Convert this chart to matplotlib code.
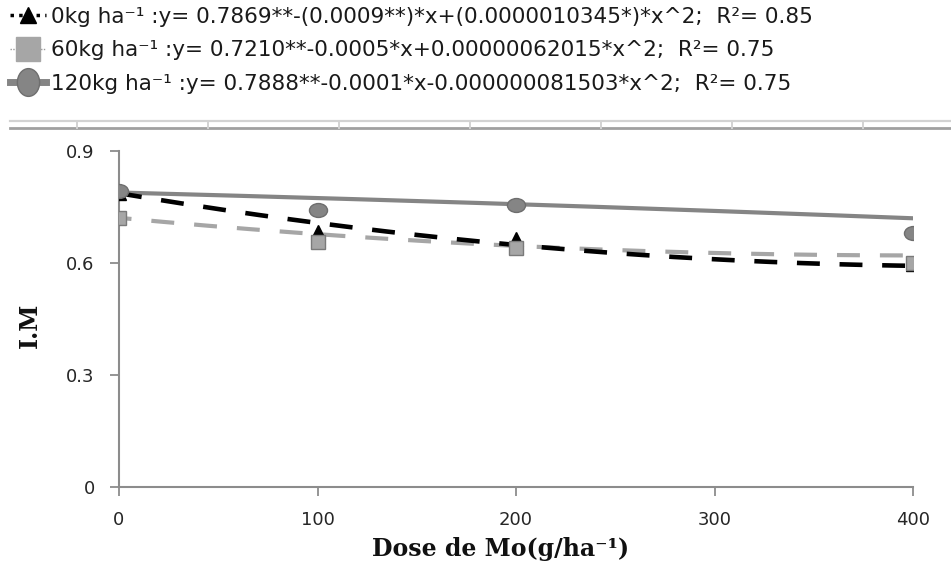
import numpy as np
import matplotlib
matplotlib.use("Agg")
import matplotlib.pyplot as plt
from matplotlib.lines import Line2D
from matplotlib.path import Path
from matplotlib.transforms import Affine2D

# ---------------- data ----------------
doses = [0, 100, 200, 400]
im_0kg = [0.787, 0.684, 0.664, 0.598]
im_60kg = [0.720, 0.657, 0.641, 0.600]
im_120kg = [0.793, 0.742, 0.755, 0.680]

# quadratic trend coefficients (c0, c1, c2)
coef_0kg = [0.7869, -0.0009, 0.0000010345]
coef_60kg = [0.7210, -0.0005, 0.00000062015]
coef_120kg = [0.7888, -0.00014, -0.000000081503]

legend_labels = [
    "0kg ha\u207b\u00b9 :y= 0.7869**-(0.0009**)*x+(0.0000010345*)*x^2;  R\u00b2= 0.85",
    "60kg ha\u207b\u00b9 :y= 0.7210**-0.0005*x+0.00000062015*x^2;  R\u00b2= 0.75",
    "120kg ha\u207b\u00b9 :y= 0.7888**-0.0001*x-0.000000081503*x^2;  R\u00b2= 0.75",
]
x_ticks = [0, 100, 200, 300, 400]
y_ticks = [0, 0.3, 0.6, 0.9]
x_label = "Dose de Mo(g/ha\u207b\u00b9)"
y_label = "I.M"

# ---------------- figure ----------------
W, H = 951, 562
fig = plt.figure(figsize=(W / 100, H / 100), dpi=100)
ax = fig.add_axes([119 / W, 1 - 487 / H, (913 - 119) / W, (487 - 151) / H])

xs = np.linspace(0, 400, 200)

def trend(c):
    return c[0] + c[1] * xs + c[2] * xs ** 2

c_black = "#000000"
c_light = "#a6a6a6"
c_mid = "#858585"

ax.plot(xs, trend(coef_60kg), color=c_light, lw=3.0, linestyle=(2.5, (5.5, 4.8)),
        zorder=2)
ax.plot(xs, trend(coef_0kg), color=c_black, lw=3.3, linestyle=(0, (5.0, 4.3)),
        zorder=3)
ax.plot(xs, trend(coef_120kg), color=c_mid, lw=3.0, linestyle="-", zorder=2.5)

# wide ellipse marker (original picture is horizontally stretched)
ell = Path.unit_circle().transformed(Affine2D().scale(1.0, 0.77))

ax.plot(doses, im_0kg, linestyle="none", marker="^", ms=9.5, color=c_black,
        markeredgecolor=c_black, zorder=4)
ax.plot(doses, im_60kg, linestyle="none", marker="s", ms=10.5, color=c_light,
        markeredgecolor="#7a7a7a", markeredgewidth=1.0, zorder=5)
ax.plot(doses, im_120kg, linestyle="none", marker=ell, ms=13, color=c_mid,
        markeredgecolor="#6e6e6e", markeredgewidth=1.0, zorder=6)

ax.set_xlim(0, 400)
ax.set_ylim(0, 0.9)
ax.set_xticks(x_ticks)
ax.set_yticks(y_ticks)
ax.set_xticklabels([str(v) for v in x_ticks])
ax.set_yticklabels(["0" if v == 0 else f"{v:.1f}" for v in y_ticks])

for s in ["top", "right"]:
    ax.spines[s].set_visible(False)
for s in ["left", "bottom"]:
    ax.spines[s].set_color("#8c8c8c")
    ax.spines[s].set_linewidth(1.5)
ax.tick_params(axis="both", direction="out", length=6.5, width=1.3, color="#8c8c8c",
               labelsize=13, labelcolor="#262626", pad=11)
for t in ax.get_xticklabels() + ax.get_yticklabels():
    t.set_family("DejaVu Sans")
ax.patch.set_visible(False)

ax.set_xlabel(x_label, family="DejaVu Serif", fontweight="bold", fontsize=17,
              color="#111111")
ax.xaxis.set_label_coords(0.48, -0.15)
ax.set_ylabel(y_label, family="DejaVu Serif", fontweight="bold", fontsize=17,
              color="#111111")
ax.yaxis.set_label_coords(-0.097, 0.48)

# legend at top
ell_tall = Path.unit_circle().transformed(Affine2D().scale(0.8, 1.0))
handles = [
    Line2D([], [], color=c_black, lw=2.5, linestyle=(0, (1, 1.5)), marker="^",
           ms=12, markerfacecolor=c_black, markeredgecolor=c_black),
    Line2D([], [], color="#9a9a9a", lw=1.0, linestyle=(0, (1, 1)), marker="s",
           ms=17, markerfacecolor=c_light, markeredgecolor=c_light),
    Line2D([], [], color=c_mid, lw=5, linestyle="-", marker=ell_tall,
           ms=20, markerfacecolor=c_mid, markeredgecolor="#6e6e6e"),
]
leg = fig.legend(handles, legend_labels, loc="upper left",
                 bbox_to_anchor=(10 / W, 1 - 7 / H), frameon=False,
                 prop={"family": "DejaVu Sans", "size": 15.5},
                 handlelength=1.65, handletextpad=0.25, labelspacing=0.62,
                 borderpad=0.0, borderaxespad=0.0)
for t in leg.get_texts():
    t.set_color("#1a1a1a")

# decorative double rule below the legend
y1 = 1 - 121 / H
y2 = 1 - 128 / H
fig.add_artist(Line2D([10 / W, 1], [y1, y1], transform=fig.transFigure,
                      color="#d2d2d2", lw=1.6))
fig.add_artist(Line2D([10 / W, 1], [y2, y2], transform=fig.transFigure,
                      color="#a0a0a0", lw=2.0))
for px in [77, 208, 339, 470, 601, 732, 863]:
    fig.add_artist(Line2D([px / W, px / W], [y2, y1], transform=fig.transFigure,
                          color="#d2d2d2", lw=1.4))

fig.savefig("out.png", dpi=100, facecolor="white")
